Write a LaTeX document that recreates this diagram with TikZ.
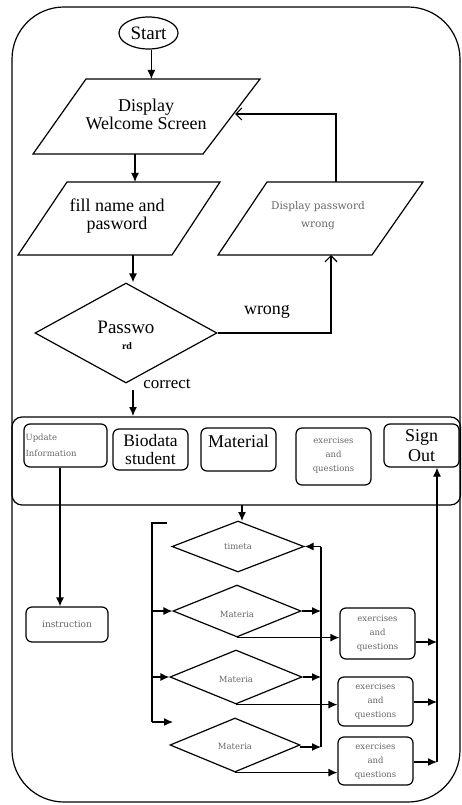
\documentclass[tikz,border=0pt]{standalone}
\usepackage{fontspec}
\setmainfont{Liberation Serif}
\newfontfamily\smallfont{DejaVu Serif}
\usetikzlibrary{shapes.geometric,arrows.meta}
\begin{document}
\begin{tikzpicture}[x=1pt,y=-1pt,line width=1.2pt,
  arr/.style={-{Latex[length=9pt,width=8pt]}},
  oarr/.style={-{Straight Barb[length=6pt,width=12pt]}},
  big/.style={font=\fontsize{18}{18}\selectfont, align=center, inner sep=0},
  small/.style={font=\smallfont\fontsize{8.5}{14}\selectfont, text=black!60, align=center, inner sep=0},
  box/.style={draw, rounded corners=6, inner sep=0},
  dia/.style={diamond, draw, inner sep=0, aspect=1}]
\useasboundingbox (0,0) rectangle (462,805);

% outer frame
\draw[rounded corners=52] (12,7) rectangle (460,802);

% start
\node[ellipse, draw, minimum width=59, minimum height=32, inner sep=0,
      font=\fontsize{19}{19}\selectfont] (start) at (148.5,33) {Start};

% Display welcome screen
\draw (86,79) -- (260,79) -- (203,154) -- (33,154) -- cycle;
\coordinate (wtop) at (154,79);
\coordinate (wbot) at (135,154);
\coordinate (wright) at (235,114);
\node[big] (welcome) at (146,114) {Display\\Welcome Screen};

% fill name and password
\draw (67,182) -- (220,182) -- (172,255) -- (18,255) -- cycle;
\coordinate (ftop) at (135,182);
\coordinate (fbot) at (133,255);
\node[big] (fill) at (117,216) {fill name and\\pasword};

% display password wrong
\draw (267,182) -- (423,182) -- (372,255) -- (218,255) -- cycle;
\coordinate (ptop) at (336,182);
\coordinate (pbot) at (331,255);
\node[small, font=\smallfont\fontsize{10.5}{18}\selectfont] (pwrong) at (318,216) {Display password\\wrong};

% password diamond
\node[dia, minimum width=182, minimum height=100] (pass) at (126,333) {};
\node[inner sep=0, font=\fontsize{19}{19}\selectfont] (passwo) at (126,327) {Passwo};
\node[inner sep=0, font=\fontsize{10}{10}\selectfont\bfseries] (rd) at (127,346) {rd};

% arrows upper part
\draw[arr] (start.-80) -- (start.-80 |- wtop);
\draw[arr] (wbot) -- (wbot |- ftop);
\draw[arr] (fbot) -- (fbot |- pass.north);
\coordinate (wturn) at (331,333);
\draw[oarr] (pass.east) -- (wturn) -- (pbot);
\node[big] (wronglbl) at (267,312) {wrong};
\coordinate (fturn) at (336,114);
\draw[oarr] (ptop) -- (fturn) -- (wright);
\node[big, font=\fontsize{17}{17}\selectfont] (correct) at (167,384) {correct};
\coordinate (cstart) at (133,390);
\coordinate (cend) at (133,416);
\draw[arr] (cstart) -- (cend);

% menu
\draw[rounded corners=10] (12,417) rectangle (460.5,505);
\node[box, minimum width=83, minimum height=43] (upd) at (65.5,445.5) {};
\node[small, align=left, anchor=west, font=\smallfont\fontsize{8.5}{16}\selectfont] (updt) at (25,445.5) {Update\\Information};
\node[box, minimum width=75, minimum height=41] (bio) at (150.5,449.5) {};
\node[big, font=\fontsize{17.5}{18.5}\selectfont] (biot) at (150.5,449.5) {Biodata\\student};
\node[box, minimum width=75, minimum height=43] (mat) at (238.5,449.5) {};
\node[big, font=\fontsize{18}{18}\selectfont] (matt) at (238.5,441) {Material};
\node[box, minimum width=75, minimum height=57] (exm) at (333.5,456.5) {};
\node[small] (exmt) at (333.5,455) {exercises\\and\\questions};
\node[box, minimum width=75, minimum height=43] (sign) at (421.5,445.5) {};
\node[big, font=\fontsize{18}{19.5}\selectfont] (signt) at (421.5,445.5) {Sign\\Out};

% lower part
\node[box, minimum width=82, minimum height=35] (instr) at (67,624.5) {};
\node[small, font=\smallfont\fontsize{9}{14}\selectfont] (instrt) at (67,624.5) {instruction};
\draw[arr] (upd.south -| 60,0) -- (instr.north -| 60,0);

\node[dia, minimum width=132, minimum height=51] (d0) at (238,546.5) {};
\node[small] (d0t) at (238,546.5) {timeta};
\node[dia, minimum width=128, minimum height=52] (d1) at (237,611) {};
\node[small] (d1t) at (237,614) {Materia};
\node[dia, minimum width=132, minimum height=54] (d2) at (236,677) {};
\node[small] (d2t) at (236,679) {Materia};
\node[dia, minimum width=130, minimum height=54] (d3) at (235,745) {};
\node[small] (d3t) at (235,746) {Materia};

\coordinate (mbot) at (242,505);
\draw[arr] (mbot) -- (242,521);

% left bus
\coordinate (lb0) at (152,523);
\coordinate (lb3) at (152,722);
\draw (167,523) -- (lb0) -- (lb3);
\draw[arr] (lb3) -- (173,722);
\draw[arr] (d1.west -| lb0) -- (d1.west);
\draw[arr] (d2.west -| lb0) -- (d2.west);

% right bus
\coordinate (rb0) at (321,546.5);
\coordinate (rb3) at (321,747);
\draw (rb0) -- (rb3);
\draw[arr] (rb0) -- (d0.east);
\draw[arr] (d1.east) -- (d1.east -| rb0);
\draw[arr] (d2.east) -- (d2.east -| rb0);
\draw[arr] (300,747) -- (rb3);

% exercise boxes
\node[box, minimum width=75, minimum height=51] (e1) at (377.5,633.5) {};
\node[small] (e1t) at (377.5,633.5) {exercises\\and\\questions};
\node[box, minimum width=75, minimum height=49] (e2) at (375.5,701.5) {};
\node[small] (e2t) at (375.5,701.5) {exercises\\and\\questions};
\node[box, minimum width=75, minimum height=48] (e3) at (375.5,761) {};
\node[small] (e3t) at (375.5,761) {exercises\\and\\questions};

\draw[arr] (d1.south) -- (d1.south -| e1.west);
\draw[arr] (d2.south) -- (d2.south -| e2.west);
\draw[arr] (d3.south) -- (d3.south -| e3.west);

% sign out bus
\coordinate (sb) at (437,762);
\draw[arr] (sb) -- (sign.south -| sb);
\draw[arr] (e1.east |- 0,642) -- (sb |- 0,642);
\draw[arr] (e2.east |- 0,702) -- (sb |- 0,702);
\draw[arr] (e3.east |- 0,762) -- (sb);
\end{tikzpicture}
\end{document}
